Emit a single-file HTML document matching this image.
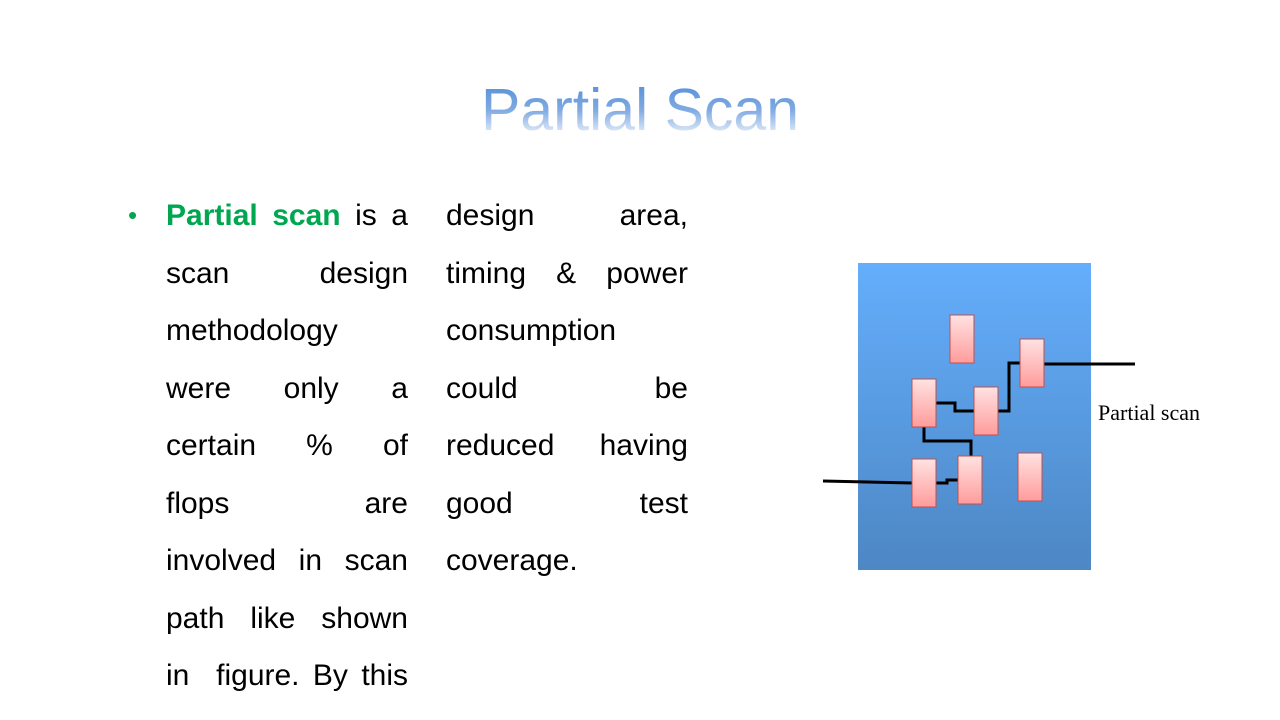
<!DOCTYPE html>
<html><head><style>
body{margin:0;width:1280px;height:720px;background:#fff;position:relative;overflow:hidden;font-family:"Liberation Sans",sans-serif}
.title{position:absolute;left:0;width:1280px;top:74px;text-align:center;font-size:59px;line-height:72px;
background:linear-gradient(#4a86d4 0%,#80aae2 50%,#e8f0fb 85%,#ffffff 100%);-webkit-background-clip:text;background-clip:text;color:transparent}
.col{position:absolute;width:242px;font-size:30px;color:#000}
.col div{height:57.5px;line-height:30px;text-align:justify;text-align-last:justify;white-space:nowrap}
.col div.l{text-align-last:left}
.g{color:#00a650;font-weight:bold}
.bul{position:absolute;left:128px;top:200px;color:#00a650;font-size:26px}
</style></head><body>
<div class="title">Partial Scan</div>
<div class="bul">•</div>
<div class="col" style="left:166px;top:201px">
<div><span class="g">Partial scan</span> is a</div>
<div>scan design</div>
<div>methodology</div>
<div>were only a</div>
<div>certain % of</div>
<div>flops are</div>
<div>involved in scan</div>
<div>path like shown</div>
<div>in&nbsp; figure. By this</div>
</div>
<div class="col" style="left:446px;top:201px">
<div>design area,</div>
<div>timing &amp; power</div>
<div class="l">consumption</div>
<div>could be</div>
<div>reduced having</div>
<div>good test</div>
<div class="l">coverage.</div>
</div>
<svg width="1280" height="720" style="position:absolute;left:0;top:0">
<defs>
<linearGradient id="bg" x1="0" y1="0" x2="0" y2="1"><stop offset="0" stop-color="#64aefc"/><stop offset="1" stop-color="#4d87c4"/></linearGradient>
<linearGradient id="ff" x1="0" y1="0" x2="0" y2="1"><stop offset="0" stop-color="#ffe2e2"/><stop offset="1" stop-color="#ff9c9c"/></linearGradient>
</defs>
<rect x="858" y="263" width="233" height="307" fill="url(#bg)"/>
<g fill="none" stroke="#000" stroke-width="3">
<polyline points="1044,364 1135,364"/>
<polyline points="823,481 912,483"/>
<polyline points="936,483 947,483 947,480 958,480"/>
<polyline points="924,427 924,441 971,441 971,456"/>
<polyline points="936,403 955,403 955,411 974,411"/>
<polyline points="998,411 1009,411 1009,363 1020,363"/>
</g>
<g fill="url(#ff)" stroke="#c0504d" stroke-width="1">
<rect x="950" y="315" width="24" height="48"/>
<rect x="1020" y="339" width="24" height="48"/>
<rect x="912" y="379" width="24" height="48"/>
<rect x="974" y="387" width="24" height="48"/>
<rect x="912" y="459" width="24" height="48"/>
<rect x="958" y="456" width="24" height="48"/>
<rect x="1018" y="453" width="24" height="48"/>
</g>
<text x="1098" y="420" font-family="Liberation Serif,serif" font-size="22" fill="#000">Partial scan</text>
</svg>
</body></html>
